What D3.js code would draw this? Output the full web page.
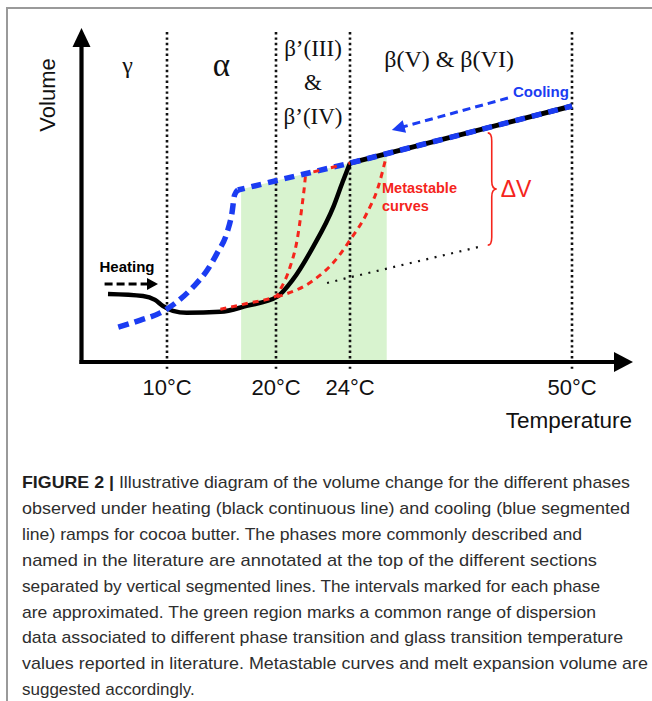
<!DOCTYPE html>
<html><head><meta charset="utf-8">
<script src="https://cdn.jsdelivr.net/npm/d3@7/dist/d3.min.js"></script>
<style>body{margin:0;background:#fff}svg{display:block}</style>
</head><body><svg id="c" width="652" height="701"></svg>
<script>
// ---------- data (schematic values) ----------
const tickTemps = [10, 20, 24, 50];
const tickLabels = ["10°C", "20°C", "24°C", "50°C"];
const phaseNames = ["γ", "α", "β’(III)", "&", "β’(IV)", "β(V) & β(VI)"];
const phaseT = [5.4, 15.0, 22.0, 22.0, 22.0, 35.6];

const coolT = [4.3, 6.9, 9.2, 10.55, 12.4, 13.7, 14.6, 15.5, 15.96, 16.2, 16.5];
const coolV = [9.9, 12.0, 14.2, 16.6, 22.0, 27.1, 32.2, 38.3, 44.3, 49.7, 51.2];
const liquidT = [16.5, 20, 24, 50];
const liquidV = [51.2, 54.0, 59.3, 76.5];
const heatT = [3.1, 7.2, 8.6, 9.5, 10.55, 11.8, 14.9, 17.3, 20.05, 20.9, 22.0, 23.1, 23.6, 24];
const heatV = [19.9, 19.3, 18.1, 16.3, 14.8, 14.2, 14.5, 16.3, 19.0, 24.1, 34.0, 46.1, 53.6, 59.3];
const meta1T = [14.9, 17.3, 20.05, 20.22, 20.76, 21.14, 21.4, 21.57, 21.6];
const meta1V = [15.3, 17.0, 19.4, 21.1, 28.0, 36.1, 46.1, 54.2, 56.1];
const metaTopT = [21.6, 24];
const metaTopV = [56.1, 59.3];
const meta2T = [20.05, 21.97, 23.08, 24, 25.99, 27.3, 28.2];
const meta2V = [19.0, 23.8, 29.2, 36.1, 44.3, 52.1, 60.8];
const meltT = [22.76, 24, 39.0];
const meltV = [23.2, 24.9, 34.0];
const greenT = [16.8, 20, 24, 28.3];
const greenV = [51.4, 54.0, 59.3, 62.1];
const deltaT = 40.6, deltaTop = 68.4, deltaBottom = 34.6;

const captionLines = [
  "Illustrative diagram of the volume change for the different phases",
  "observed under heating (black continuous line) and cooling (blue segmented",
  "line) ramps for cocoa butter. The phases more commonly described and",
  "named in the literature are annotated at the top of the different sections",
  "separated by vertical segmented lines. The intervals marked for each phase",
  "are approximated. The green region marks a common range of dispersion",
  "data associated to different phase transition and glass transition temperature",
  "values reported in literature. Metastable curves and melt expansion volume are",
  "suggested accordingly."
];
const captionEnds = [630, 630, 582, 597, 600, 596, 623, 648, 181];

// ---------- scales ----------
const x = d3.scaleLinear().domain([0, 10, 20, 24, 50]).range([81.5, 167, 276, 350, 572]);
const y = d3.scaleLinear().domain([0, 100]).range([360, 28]);
const zip = (a, b) => a.map((t, i) => [t, b[i]]);

const RED = "#f5251c", BLUE = "#1b3cf2", GREEN = "#d8f3cf";
const SANS = "'Liberation Sans', Arial, Helvetica, sans-serif";
const SERIF = "'Liberation Serif', 'Times New Roman', serif";

const svg = d3.select("#c");
svg.append("rect").attr("width", 652).attr("height", 701).attr("fill", "#fff");
// frame
svg.append("path").attr("d", "M7,701 L7,8 L652,8").attr("fill", "none").attr("stroke", "#9a9a9a").attr("stroke-width", 2);

const g = svg.append("g");
const lineM = d3.line().x(d => x(d[0])).y(d => y(d[1])).curve(d3.curveMonotoneX);
const lineL = d3.line().x(d => x(d[0])).y(d => y(d[1]));

// green region
g.append("path")
  .attr("d", d3.area().x(d => x(d[0])).y0(y(0)).y1(d => y(d[1]))(zip(greenT, greenV)))
  .attr("fill", GREEN);

// vertical dotted dividers
g.selectAll(".div").data(tickTemps).join("line")
  .attr("x1", d => x(d)).attr("x2", d => x(d))
  .attr("y1", y(98.8)).attr("y2", y(-2.6))
  .attr("stroke", "#111").attr("stroke-width", 2.6).attr("stroke-dasharray", "2.4 3");

// axes
const ax0 = x(0), ay0 = y(0) + 2;
g.append("line").attr("x1", ax0).attr("x2", ax0).attr("y1", ay0 + 2).attr("y2", 45)
  .attr("stroke", "#000").attr("stroke-width", 4.2);
g.append("path").attr("d", `M${ax0 - 9},47 L${ax0 + 9},47 L${ax0},28 Z`).attr("fill", "#000");
g.append("line").attr("x1", ax0 - 2).attr("x2", 617).attr("y1", ay0).attr("y2", ay0)
  .attr("stroke", "#000").attr("stroke-width", 4.2);
g.append("path").attr("d", `M614,${ay0 - 10} L614,${ay0 + 10} L633,${ay0} Z`).attr("fill", "#000");

// melt expansion dotted line
g.append("path").attr("d", lineL(zip(meltT, meltV)))
  .attr("fill", "none").attr("stroke", "#111").attr("stroke-width", 2.2)
  .attr("stroke-dasharray", "2 6.5");

// heating (black) curve + liquid line
g.append("path").attr("d", lineM(zip(heatT, heatV)))
  .attr("fill", "none").attr("stroke", "#000").attr("stroke-width", 4.5).attr("stroke-linejoin", "round");
g.append("path").attr("d", lineL(zip(liquidT, liquidV).filter(d => d[0] >= 24)))
  .attr("fill", "none").attr("stroke", "#000").attr("stroke-width", 5);

// metastable curves (red)
const redDash = {stroke: RED, "stroke-width": 3, "stroke-dasharray": "6 5", fill: "none"};
function styled(sel, st) { Object.entries(st).forEach(([k, v]) => sel.attr(k, v)); return sel; }
styled(g.append("path").attr("d", lineM(zip(meta1T, meta1V))), redDash);
styled(g.append("path").attr("d", lineM(zip(meta2T, meta2V))), redDash);

// cooling (blue) curve
g.append("path").attr("d", lineM(zip(coolT, coolV)))
  .attr("fill", "none").attr("stroke", BLUE).attr("stroke-width", 5.5).attr("stroke-dasharray", "11 6");
g.append("path").attr("d", lineL(zip(liquidT, liquidV)))
  .attr("fill", "none").attr("stroke", BLUE).attr("stroke-width", 5.5)
  .attr("stroke-dasharray", "10 7").attr("stroke-dashoffset", 3);
styled(g.append("path").attr("d", lineL(zip(metaTopT, metaTopV))), redDash)
  .attr("stroke-dasharray", "6 12").attr("stroke-dashoffset", -8);

// heating arrow
const hy = y(22.9), hx0 = x(2.7), hx1 = x(8.95);
g.append("line").attr("x1", hx0).attr("x2", hx1 - 9).attr("y1", hy).attr("y2", hy)
  .attr("stroke", "#000").attr("stroke-width", 3).attr("stroke-dasharray", "8 4");
g.append("path").attr("d", `M${hx1 - 11},${hy - 6} L${hx1 - 11},${hy + 6} L${hx1},${hy} Z`).attr("fill", "#000");
g.append("text").attr("x", x(2.1)).attr("y", 272).text("Heating")
  .attr("font-family", SANS).attr("font-weight", "bold").attr("font-size", 15).attr("fill", "#000");

// cooling arrow
const c0 = [x(42.5), y(78.9)], c1 = [x(28.9), y(69.3)];
const ang = Math.atan2(c1[1] - c0[1], c1[0] - c0[0]);
const back = 13;
const cb = [c1[0] - back * Math.cos(ang), c1[1] - back * Math.sin(ang)];
g.append("line").attr("x1", c0[0]).attr("y1", c0[1]).attr("x2", cb[0] + 2 * Math.cos(ang)).attr("y2", cb[1] + 2 * Math.sin(ang))
  .attr("stroke", BLUE).attr("stroke-width", 3).attr("stroke-dasharray", "8 5");
const px = -Math.sin(ang) * 6.5, py = Math.cos(ang) * 6.5;
g.append("path").attr("d", `M${cb[0] + px},${cb[1] + py} L${cb[0] - px},${cb[1] - py} L${c1[0]},${c1[1]} Z`).attr("fill", BLUE);
g.append("text").attr("x", 513).attr("y", 97).text("Cooling")
  .attr("font-family", SANS).attr("font-weight", "bold").attr("font-size", 15).attr("fill", BLUE);

// metastable label
g.append("text").attr("x", 382).attr("y", 193).text("Metastable")
  .attr("font-family", SANS).attr("font-weight", "bold").attr("font-size", 14.5).attr("fill", RED);
g.append("text").attr("x", 382).attr("y", 211).text("curves")
  .attr("font-family", SANS).attr("font-weight", "bold").attr("font-size", 14.5).attr("fill", RED);

// delta V brace
const bx = x(deltaT), by0 = y(deltaTop), by1 = y(deltaBottom), bym = (by0 + by1) / 2;
g.append("path").attr("d",
  `M${bx - 4},${by0} Q${bx},${by0} ${bx},${by0 + 8} L${bx},${bym - 8} Q${bx},${bym} ${bx + 5},${bym}` +
  ` Q${bx},${bym} ${bx},${bym + 8} L${bx},${by1 - 8} Q${bx},${by1} ${bx - 4},${by1}`)
  .attr("fill", "none").attr("stroke", RED).attr("stroke-width", 1.6);
g.append("text").attr("x", bx + 9).attr("y", 197).text("ΔV")
  .attr("font-family", SANS).attr("font-size", 23).attr("fill", RED);

// phase labels
const phaseY = [73, 76, 56, 90, 124, 67];
const phaseSize = [24, 33, 23, 23, 23, 24];
g.selectAll(".ph").data(phaseNames).join("text")
  .attr("x", (d, i) => x(phaseT[i])).attr("y", (d, i) => phaseY[i])
  .attr("text-anchor", "middle").attr("font-family", SERIF)
  .attr("font-size", (d, i) => phaseSize[i]).attr("fill", "#111").text(d => d);

// tick labels
g.selectAll(".tl").data(tickTemps).join("text")
  .attr("x", d => x(d)).attr("y", 395).attr("text-anchor", "middle")
  .attr("font-family", SANS).attr("font-size", 22).attr("fill", "#111")
  .text((d, i) => tickLabels[i]);

// axis titles
g.append("text").attr("x", 632).attr("y", 428).attr("text-anchor", "end").text("Temperature")
  .attr("font-family", SANS).attr("font-size", 22.5).attr("fill", "#111");
g.append("text").attr("transform", "translate(55,95) rotate(-90)").attr("text-anchor", "middle").text("Volume")
  .attr("font-family", SANS).attr("font-size", 22).attr("fill", "#111");

// caption
const cap = svg.append("g").attr("font-family", SANS).attr("font-size", 17).attr("fill", "#2e2e2e");
captionLines.forEach((line, i) => {
  const t = cap.append("text").attr("x", 22).attr("y", 488 + i * 25.9);
  if (i === 0) {
    t.append("tspan").attr("font-weight", "bold").attr("fill", "#1e1e1e").text("FIGURE 2 | ");
  }
  t.append("tspan").text(line);
  if (i < captionLines.length - 1) {
    t.attr("textLength", captionEnds[i] - 22).attr("lengthAdjust", "spacingAndGlyphs");
  }
});
</script></body></html>
